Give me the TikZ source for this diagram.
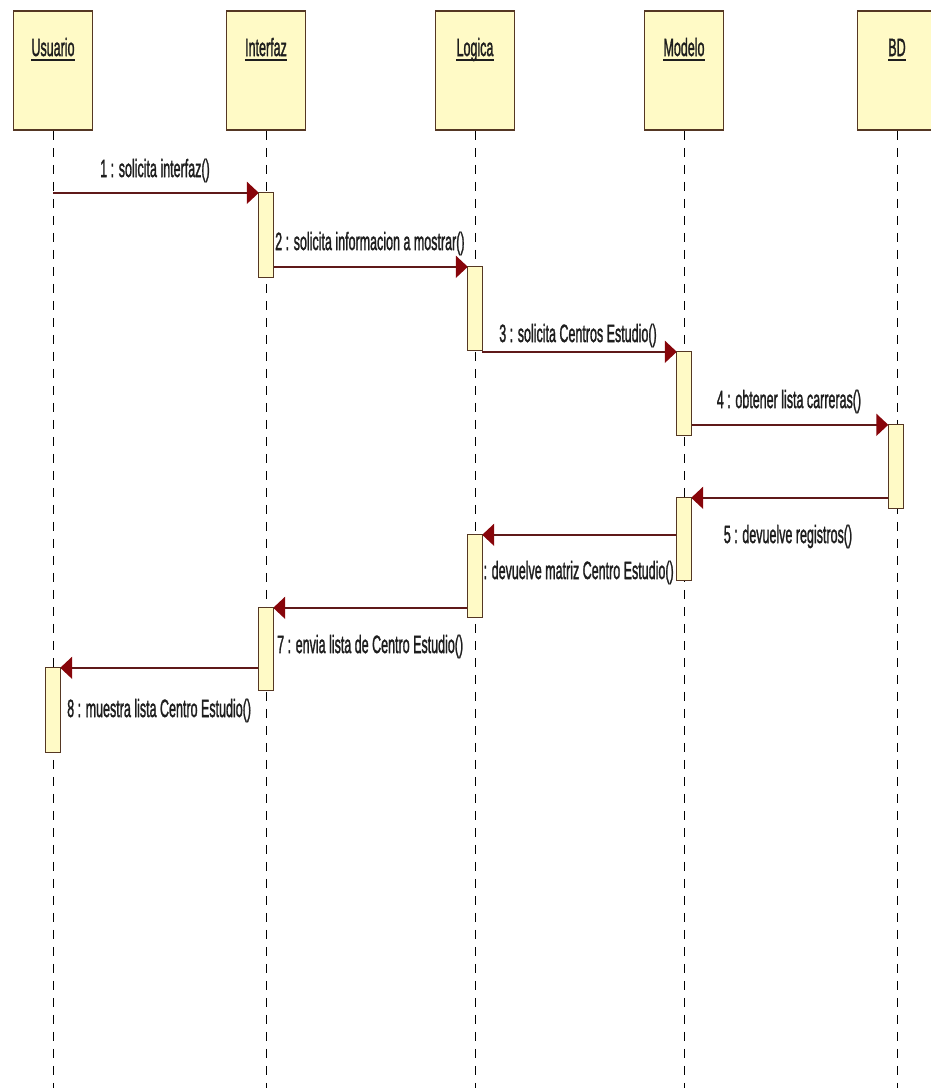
\documentclass[tikz,border=0pt]{standalone}
\usepackage{fontspec}
\setmainfont{Liberation Sans}
\newfontfamily\lblfont{Liberation Sans}[FakeBold=2]
\usetikzlibrary{arrows.meta}
\definecolor{boxfill}{RGB}{255,250,198}
\definecolor{boxline}{RGB}{85,55,35}
\definecolor{msgline}{RGB}{95,25,25}
\definecolor{tipred}{RGB}{135,5,10}
\definecolor{txt}{RGB}{30,30,30}
\newcommand{\nar}[1]{\scalebox{0.5}[1]{#1}}
\tikzset{
 header/.style={draw=boxline, line width=1.6pt, fill=boxfill, minimum width=79pt, minimum height=119pt, inner sep=0pt},
 act/.style={draw=boxline, line width=1.3pt, fill=boxfill, minimum width=14pt, inner sep=0pt},
 lifeline/.style={line width=1pt, dash pattern=on 9pt off 8pt},
 msg/.style={draw=msgline, line width=2pt, -{Triangle[length=12pt,width=22pt,color=tipred]}},
 lbl/.style={font=\fontsize{25pt}{25pt}\lblfont, text=txt, inner sep=0pt},
 uline/.style={draw=txt, line width=2.2pt},
}
\begin{document}
\begin{tikzpicture}[x=1pt,y=-1pt]
\useasboundingbox (0,0) rectangle (930,1088);
% headers
\node[header] (h1) at (53,70.5) {};
\node[header] (h2) at (266,70.5) {};
\node[header] (h3) at (475,70.5) {};
\node[header] (h4) at (684,70.5) {};
\node[header] (h5) at (897,70.5) {};
\node[lbl, anchor=base] (t1) at (53,56) {\nar{Usuario}};
\node[lbl, anchor=base] (t2) at (266,56) {\nar{Interfaz}};
\node[lbl, anchor=base] (t3) at (475,56) {\nar{Logica}};
\node[lbl, anchor=base] (t4) at (684,56) {\nar{Modelo}};
\node[lbl, anchor=base] (t5) at (897,56) {\nar{BD}};
\foreach \t in {t1,t2,t3,t4,t5}
  \draw[uline] ([yshift=-4pt]\t.base west) -- ([yshift=-4pt]\t.base east);
% lifelines
\foreach \h in {h1,h2,h3,h4,h5}
  \draw[lifeline] (\h.south) -- (\h.south |- 0,1088);
% activations (positions only, drawn later)
\path
  node[minimum width=14pt, minimum height=84pt, inner sep=0pt] (a1) at (266,235) {}
  node[minimum width=14pt, minimum height=83pt, inner sep=0pt] (a2) at (475,308.5) {}
  node[minimum width=14pt, minimum height=83pt, inner sep=0pt] (a3) at (684,393.5) {}
  node[minimum width=15pt, minimum height=83pt, inner sep=0pt] (a4) at (896,466.5) {}
  node[minimum width=14pt, minimum height=82pt, inner sep=0pt] (a5) at (684,539) {}
  node[minimum width=14pt, minimum height=82pt, inner sep=0pt] (a6) at (475,576) {}
  node[minimum width=14pt, minimum height=82pt, inner sep=0pt] (a7) at (266,649) {}
  node[minimum width=14pt, minimum height=84pt, inner sep=0pt] (a8) at (53,710) {};
% messages
\draw[msg] (h1 |- a1.north) -- (a1.north west);
\draw[msg] (a1.east |- a2.north) -- (a2.north west);
\draw[msg] (a2.east |- a3.north) -- (a3.north west);
\draw[msg] (a3.east |- a4.north) -- (a4.north west);
\draw[msg] (a4.west |- a5.north) -- (a5.north east);
\draw[msg] (a5.west |- a6.north) -- (a6.north east);
\draw[msg] (a6.west |- a7.north) -- (a7.north east);
\draw[msg] (a7.west |- a8.north) -- (a8.north east);
% labels
\node[lbl, anchor=base] (m1) at (155,177) {\nar{1 : solicita interfaz()}};
\node[lbl, anchor=base west] (m2) at (275,250) {\nar{2 : solicita informacion a mostrar()}};
\node[lbl, anchor=base] (m3) at (578,342) {\nar{3 : solicita Centros Estudio()}};
\node[lbl, anchor=base] (m4) at (789,408) {\nar{4 : obtener lista carreras()}};
\node[lbl, anchor=base] (m5) at (788,543) {\nar{5 : devuelve registros()}};
\node[lbl, anchor=base west] (m6) at (473,579) {\nar{6 : devuelve matriz Centro Estudio()}};
\node[lbl, anchor=base west] (m7) at (277,653) {\nar{7 : envia lista de Centro Estudio()}};
\node[lbl, anchor=base west] (m8) at (67,717) {\nar{8 : muestra lista Centro Estudio()}};
% activation boxes
\foreach \a in {a1,a2,a3,a4,a5,a6,a7,a8}
  \draw[act] (\a.north west) rectangle (\a.south east);
\end{tikzpicture}
\end{document}
